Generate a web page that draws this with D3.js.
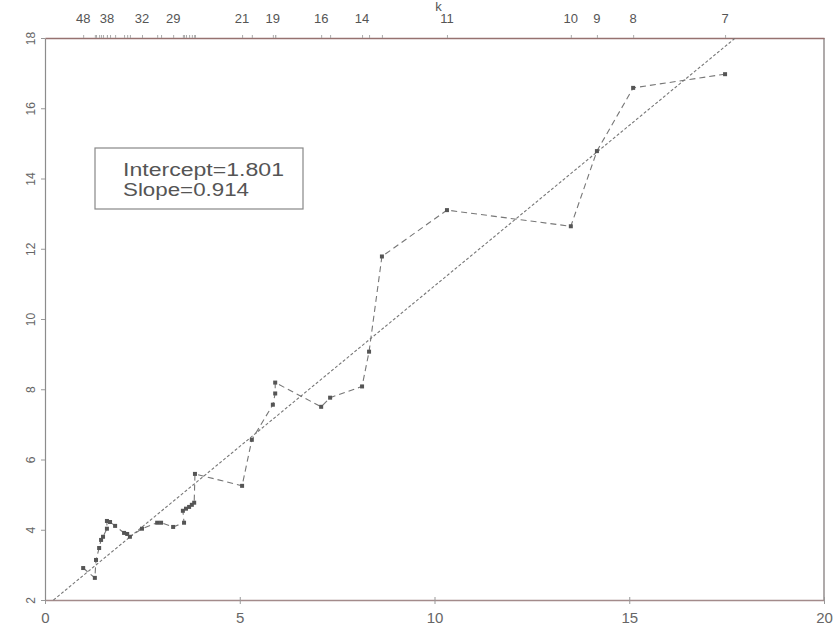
<!DOCTYPE html>
<html>
<head>
<meta charset="utf-8">
<script src="https://cdn.jsdelivr.net/npm/d3@7"></script>
<style>
  html, body { margin: 0; padding: 0; background: #ffffff; }
  svg { display: block; font-family: "Liberation Sans", Arial, sans-serif; }
</style>
</head>
<body>
<svg id="chart" width="833" height="627"></svg>
<script>
// Number of clusters k for each plotted point
const kValues = [7, 8, 9, 10, 11, 12, 13, 14, 15, 16, 17, 18, 19, 20, 21, 22, 23, 24, 25, 26, 27,
  28, 29, 30, 31, 32, 33, 34, 35, 36, 37, 38, 39, 40, 41, 42, 43, 44, 48];
// Horizontal coordinate of each point
const xValues = [17.46, 15.10, 14.17, 13.50, 10.32, 8.65, 8.32, 8.14, 7.32, 7.09, 5.91, 5.91, 5.85, 5.31, 5.06,
  3.85, 3.83, 3.77, 3.70, 3.62, 3.54, 3.57, 3.29, 2.98, 2.88, 2.49, 2.18, 2.11, 2.03, 1.80, 1.67, 1.59, 1.59,
  1.49, 1.44, 1.39, 1.31, 1.28, 0.98];
// Vertical coordinate of each point
const yValues = [16.97, 16.58, 14.78, 12.64, 13.10, 11.78, 9.07, 8.08, 7.76, 7.50, 8.19, 7.88, 7.56, 6.56, 5.25,
  5.59, 4.77, 4.71, 4.65, 4.60, 4.54, 4.20, 4.08, 4.20, 4.20, 4.03, 3.80, 3.88, 3.91, 4.11, 4.22, 4.25, 4.03,
  3.80, 3.71, 3.48, 3.14, 2.63, 2.91];
// k values that get a label on the top axis
const kLabelled = [48, 38, 32, 29, 21, 19, 16, 14, 11, 10, 9, 8, 7];
// Bottom and left tick values
const xTicks = [0, 5, 10, 15, 20];
const yTicks = [2, 4, 6, 8, 10, 12, 14, 16, 18];
// Fitted line
const intercept = 1.801;
const slope = 0.914;

const svg = d3.select("#chart");
const plotLeft = 45, plotRight = 824, plotTop = 38, plotBottom = 600;

const x = d3.scaleLinear().domain([0, 20]).range([plotLeft, plotRight]);
const y = d3.scaleLinear().domain([2, 18]).range([plotBottom, plotTop]);

const points = kValues.map((k, i) => ({ k, x: xValues[i], y: yValues[i] }));

// Right frame line
svg.append("line").attr("x1", plotRight).attr("x2", plotRight).attr("y1", plotTop).attr("y2", plotBottom)
  .attr("stroke", "#7a7272").attr("stroke-width", 1.2);

// Bottom axis
const bottomAxis = svg.append("g").attr("transform", `translate(0,${plotBottom})`)
  .call(d3.axisBottom(x).tickValues(xTicks).tickSize(4).tickSizeOuter(0).tickPadding(8));
bottomAxis.select(".domain").attr("stroke", "#a38b8b").attr("stroke-width", 1.4);
bottomAxis.selectAll(".tick line").attr("stroke", "#999").attr("y1", -3);
bottomAxis.selectAll(".tick text").attr("fill", "#666").attr("font-size", 15)
  .attr("font-family", "Liberation Sans, Arial, sans-serif");

// Left axis with rotated labels
const leftAxis = svg.append("g").attr("transform", `translate(${plotLeft},0)`)
  .call(d3.axisLeft(y).tickValues(yTicks).tickSize(4).tickSizeOuter(0).tickFormat(d3.format("d")));
leftAxis.select(".domain").attr("stroke", "#8c8c8c").attr("stroke-width", 1.2);
leftAxis.selectAll(".tick line").attr("stroke", "#999");
leftAxis.selectAll(".tick text")
  .attr("fill", "#666").attr("font-size", 12)
  .attr("font-family", "Liberation Sans, Arial, sans-serif")
  .attr("x", null).attr("dy", null)
  .attr("text-anchor", "middle")
  .attr("transform", "translate(-14,0) rotate(-90) translate(0,4)");

// Top axis: one tick per point, labelled with k for selected ones
const topAxis = svg.append("g").attr("transform", `translate(0,${plotTop})`)
  .call(d3.axisTop(x).tickValues(xValues).tickSize(3).tickSizeOuter(0).tickFormat(""));
topAxis.select(".domain").attr("stroke", "#967270").attr("stroke-width", 1.3);
topAxis.selectAll(".tick line").attr("stroke", "#aaa");

svg.append("g").selectAll("text")
  .data(points.filter(p => kLabelled.includes(p.k)))
  .join("text")
  .attr("x", d => x(d.x))
  .attr("y", plotTop - 15)
  .attr("text-anchor", "middle")
  .attr("fill", "#555").attr("font-size", 13)
  .text(d => d.k);

svg.append("text").attr("x", x(10.1)).attr("y", 11)
  .attr("text-anchor", "middle").attr("fill", "#555").attr("font-size", 13).text("k");

// Fitted line, clipped to the plot area
const xStart = Math.max(0, (2 - intercept) / slope);
const xEnd = Math.min(20, (18 - intercept) / slope);
svg.append("line")
  .attr("x1", x(xStart)).attr("y1", y(intercept + slope * xStart))
  .attr("x2", x(xEnd)).attr("y2", y(intercept + slope * xEnd))
  .attr("stroke", "#777").attr("stroke-width", 1.1).attr("stroke-dasharray", "3,2");

// Points joined in order of k
svg.append("path")
  .datum(points)
  .attr("d", d3.line().x(d => x(d.x)).y(d => y(d.y)))
  .attr("fill", "none").attr("stroke", "#777").attr("stroke-width", 1.1)
  .attr("stroke-dasharray", "6,4");

svg.append("g").selectAll("rect")
  .data(points)
  .join("rect")
  .attr("x", d => x(d.x) - 2).attr("y", d => y(d.y) - 2)
  .attr("width", 4).attr("height", 4)
  .attr("fill", "#555");

// Fit summary box
svg.append("rect").attr("x", 95).attr("y", 148).attr("width", 208).attr("height", 61)
  .attr("fill", "#fff").attr("stroke", "#888").attr("stroke-width", 1.2);
svg.append("text").attr("x", 123).attr("y", 176).attr("fill", "#555").attr("font-size", 18)
  .attr("textLength", 161).attr("lengthAdjust", "spacingAndGlyphs")
  .text(`Intercept=${intercept.toFixed(3)}`);
svg.append("text").attr("x", 123).attr("y", 196).attr("fill", "#555").attr("font-size", 18)
  .attr("textLength", 126).attr("lengthAdjust", "spacingAndGlyphs")
  .text(`Slope=${slope.toFixed(3)}`);
</script>
</body>
</html>
